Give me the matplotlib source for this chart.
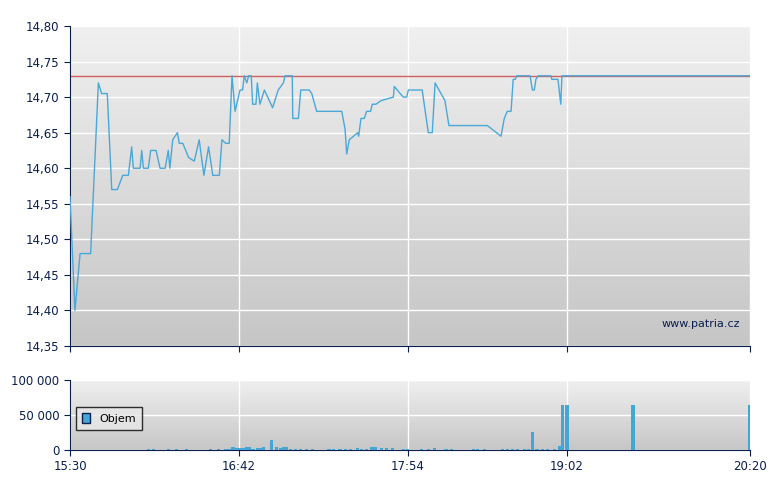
import numpy as np
import matplotlib.pyplot as plt
from matplotlib.patches import Patch

# minutes after 15:30
price_t = [0, 2.1, 4.3, 8.8, 12.1, 13.5, 15.9, 17.8, 20.2, 22.5, 24.9, 26.3, 27.0, 29.9,
           30.6, 31.3, 33.4, 34.4, 36.7, 38.4, 40.6, 41.9, 42.6, 43.8, 45.8, 46.6, 48.1,
           50.6, 53.0, 55.1, 57.1, 59.1, 60.9, 63.7, 64.8, 66.4, 67.9, 69.1, 70.4, 72.5,
           73.6, 74.3, 75.4, 76.2, 77.3, 77.9, 79.3, 79.9, 81.0, 82.9, 86.4, 88.8, 91.0,
           91.7, 94.8, 95.0, 97.4, 98.4, 102.0, 103.1, 105.2, 115.9, 117.3, 118.0, 119.1,
           122.7, 123.1, 124.1, 125.5, 126.5, 128.2, 128.9, 130.5, 132.6, 137.9, 138.3,
           142.1, 143.6, 144.3, 150.2, 152.8, 154.5, 155.7, 159.9, 161.6, 178.0, 183.8,
           185.2, 186.5, 188.1, 189.0, 189.9, 190.5, 196.2, 197.2, 198.0, 198.7, 199.7,
           205.1, 205.5, 208.1, 209.3, 209.8, 290]
price = [14.56, 14.40, 14.48, 14.48, 14.72, 14.705, 14.705, 14.57, 14.57, 14.59, 14.59, 14.63,
         14.60, 14.60, 14.625, 14.60, 14.60, 14.625, 14.625, 14.60, 14.60, 14.625, 14.60,
         14.64, 14.65, 14.635, 14.635, 14.615, 14.61, 14.64, 14.59, 14.63, 14.59, 14.59,
         14.64, 14.635, 14.635, 14.73, 14.68, 14.71, 14.71, 14.73, 14.72, 14.73, 14.73,
         14.69, 14.69, 14.72, 14.69, 14.71, 14.685, 14.71, 14.72, 14.73, 14.73, 14.67,
         14.67, 14.71, 14.71, 14.705, 14.68, 14.68, 14.655, 14.62, 14.64, 14.65, 14.645,
         14.67, 14.67, 14.68, 14.68, 14.69, 14.69, 14.695, 14.70, 14.715, 14.70, 14.70,
         14.71, 14.71, 14.65, 14.65, 14.72, 14.695, 14.66, 14.66, 14.645, 14.67, 14.68,
         14.68, 14.725, 14.725, 14.73, 14.73, 14.71, 14.71, 14.725, 14.73, 14.73, 14.725,
         14.725, 14.69, 14.73, 14.73]
ref_price = 14.73

vol_t = [33.4, 35.5, 41.9, 45.5, 49.8, 60, 63.2, 66.3, 67.8, 69.5, 71.2, 72.7, 73.8, 75.3,
         76.5, 78, 80.2, 81.2, 82.5, 85.9, 88.2, 89.7, 91.2, 92.3, 94, 96.1, 98.2, 101,
         103.5, 110.4, 112.5, 115.2, 117.4, 119.5, 122.7, 124.4, 126.5, 128.6, 130.1,
         132.7, 135, 137.6, 142.2, 143.9, 149.9, 152.9, 155.6, 160.3, 162.7, 172, 173.7,
         176.9, 184.4, 186.5, 188.6, 190.7, 193.9, 195.4, 197.1, 199.2, 201.4, 203.5,
         206.7, 209, 209.9, 212, 240.1, 290]
vol = [2000, 2000, 2000, 2000, 2000, 2000, 2000, 2000, 2000, 5000, 3000, 3000, 3000, 4000,
       5000, 2000, 3000, 3000, 5000, 15000, 5000, 3000, 5000, 5000, 2000, 2000, 2000, 2000,
       2000, 2000, 2000, 2000, 2000, 2000, 3000, 2000, 2000, 4000, 4000, 3000, 3000, 3000,
       2000, 2000, 2000, 2000, 3000, 2000, 2000, 2000, 2000, 2000, 2000, 2000, 2000, 2000,
       2000, 2000, 26000, 2000, 2000, 2000, 2000, 6000, 65000, 65000, 65000, 65000]

tick_t = [0, 72, 144, 212, 290]
tick_lbl = ["15:30", "16:42", "17:54", "19:02", "20:20"]
navy = "#0a1f4e"

fig = plt.figure(figsize=(7.8, 4.9), dpi=100)
ax = fig.add_axes([70/780, 144/490, 680/780, 320/490])
axv = fig.add_axes([70/780, 40/490, 680/780, 70/490])

def style(a, ymin, ymax, top, bot):
    grad = np.linspace(0, 1, 256).reshape(-1, 1)
    a.imshow(grad, extent=[0, 290, ymin, ymax], aspect="auto", origin="upper",
             cmap=plt.matplotlib.colors.LinearSegmentedColormap.from_list("g", [top, bot]),
             zorder=0)
    a.set_xlim(0, 290)
    a.set_ylim(ymin, ymax)
    a.grid(True, color="white", lw=1)
    a.set_axisbelow(True)
    for s in ["top", "right"]:
        a.spines[s].set_visible(False)
    for s in ["left", "bottom"]:
        a.spines[s].set_color(navy)
    a.tick_params(colors=navy, labelsize=8.5, length=4)
    a.set_xticks(tick_t)

style(ax, 14.35, 14.80, "#f0f0f0", "#c6c6c6")
ax.set_yticks(np.arange(14.35, 14.801, 0.05))
ax.set_yticklabels([f"{v:.2f}".replace(".", ",") for v in np.arange(14.35, 14.801, 0.05)])
ax.set_xticklabels([])
ax.axhline(ref_price, color="#d06060", lw=1, zorder=2)
ax.plot(price_t, price, color="#4aa8d8", lw=1, zorder=3)
ax.text(0.985, 0.06, "www.patria.cz", transform=ax.transAxes, ha="right",
        fontsize=8, color=navy)

style(axv, 0, 100000, "#f0f0f0", "#c6c6c6")
axv.bar(vol_t, vol, width=1.4, color="#45a6d6", zorder=3)
axv.set_yticks([0, 50000, 100000])
axv.set_yticklabels(["0", "50 000", "100 000"])
axv.set_xticklabels(tick_lbl)
leg = axv.legend(handles=[Patch(facecolor="#45a6d6", edgecolor=navy, label="Objem")],
                 loc="center left", bbox_to_anchor=(0.0, 0.45), fontsize=8,
                 handlelength=0.7, handleheight=0.9, fancybox=False, borderpad=0.6)
leg.get_frame().set_edgecolor("black")
leg.get_frame().set_facecolor("#e8e8e8")

fig.savefig("out.png", dpi=100)
